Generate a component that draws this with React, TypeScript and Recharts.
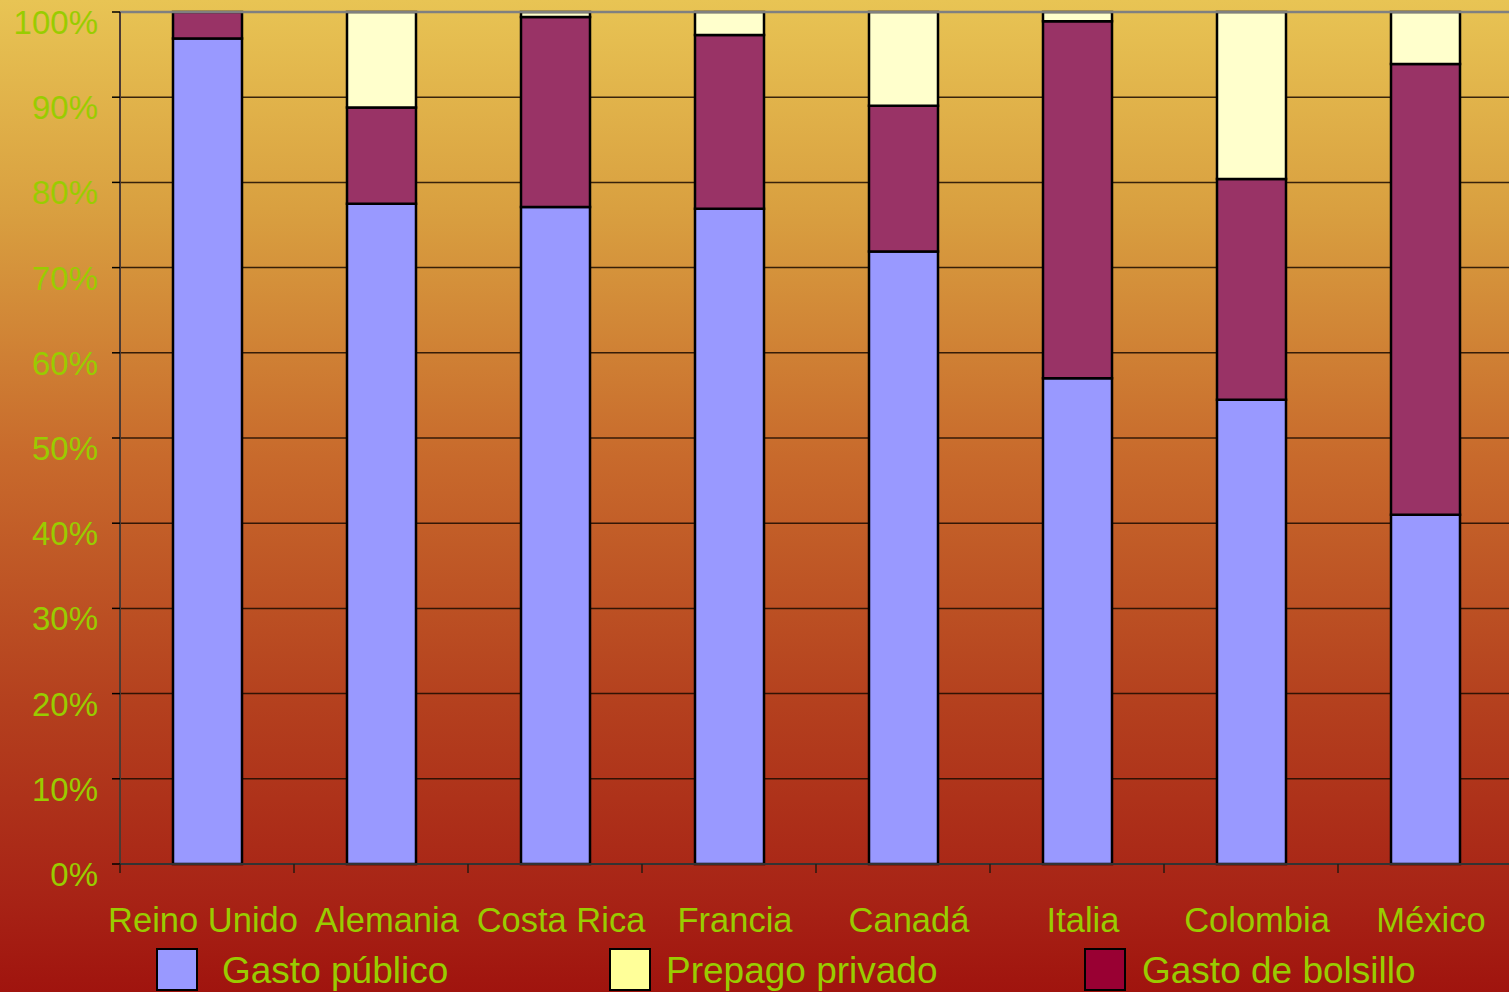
import React from "react";
import {
  Bar,
  BarChart,
  CartesianGrid,
  Legend,
  ReferenceLine,
  XAxis,
  YAxis,
} from "recharts";

// Countries along the x axis
const paises = [
  "Reino Unido",
  "Alemania",
  "Costa Rica",
  "Francia",
  "Canadá",
  "Italia",
  "Colombia",
  "México",
];

// Share of health spending (%) per source
const gastoPublico = [96.9, 77.5, 77.1, 76.9, 71.9, 57.0, 54.5, 41.0];
const gastoBolsillo = [3.1, 11.3, 22.3, 20.4, 17.1, 41.9, 25.9, 52.9];
const prepagoPrivado = [0, 11.2, 0.6, 2.7, 11.0, 1.1, 19.6, 6.1];

const yTicks = [0, 10, 20, 30, 40, 50, 60, 70, 80, 90, 100];

// legend entries (swatch colours differ a bit from the bar fills, as in the original)
const leyenda = [
  { label: "Gasto público", color: "#9999FF", left: 156, gap: 24 },
  { label: "Prepago privado", color: "#FFFF99", left: 609, gap: 15 },
  { label: "Gasto de bolsillo", color: "#990033", left: 1084, gap: 16 },
];

const data = paises.map((pais, i) => ({
  pais,
  publico: gastoPublico[i],
  bolsillo: gastoBolsillo[i],
  prepago: prepagoPrivado[i],
}));

const GREEN = "#99CC00";
const FONT = "'Liberation Sans', Arial, sans-serif";
const BAND = 174; // width of one category slot

const YTick = (props: any) => {
  const { y, payload } = props;
  return (
    <g>
      <line x1={112} x2={120} y1={y} y2={y} stroke="#000" strokeWidth={1.5} />
      <text
        x={98}
        y={y + 22}
        textAnchor="end"
        fill={GREEN}
        fontSize={33}
        fontFamily={FONT}
      >
        {payload.value}%
      </text>
    </g>
  );
};

const XTick = (props: any) => {
  const { x, payload, index } = props;
  const left = x - BAND / 2;
  // first label is nudged left so it doesn't run into the second one
  const shift = index === 0 ? -4 : 6;
  return (
    <g>
      <line x1={left} x2={left} y1={864} y2={873} stroke="#2a1a10" strokeWidth={1.5} />
      <text
        x={x + shift}
        y={932}
        textAnchor="middle"
        fill={GREEN}
        fontSize={34.5}
        fontFamily={FONT}
      >
        {payload.value}
      </text>
    </g>
  );
};

const Leyenda = () => (
  <div style={{ position: "relative", width: 1509, height: 47 }}>
    {leyenda.map((item) => (
      <div
        key={item.label}
        style={{
          position: "absolute",
          left: item.left,
          top: 3,
          display: "flex",
          alignItems: "flex-start",
        }}
      >
        <div
          style={{
            width: 38,
            height: 39,
            background: item.color,
            border: "2px solid #000",
            boxSizing: "content-box",
          }}
        />
        <span
          style={{
            marginLeft: item.gap,
            color: GREEN,
            fontFamily: FONT,
            fontSize: 37,
            lineHeight: "42px",
            marginTop: 2,
            whiteSpace: "nowrap",
          }}
        >
          {item.label}
        </span>
      </div>
    ))}
  </div>
);

export default function App() {
  return (
    <div
      style={{
        position: "absolute",
        left: 0,
        top: 0,
        width: 1509,
        height: 992,
        overflow: "hidden",
        background:
          "linear-gradient(to bottom, #E8C454 0%, #D9A040 21%, #C86A2C 46%, #B4401E 71%, #A82416 90%, #A0140E 100%)",
      }}
    >
      <BarChart
        width={1512}
        height={992}
        data={data}
        margin={{ top: 12, right: 0, left: 0, bottom: 0 }}
        barSize={69}
      >
        <CartesianGrid
          vertical={false}
          stroke="#1a0a00"
          strokeOpacity={0.85}
          strokeWidth={1.5}
        />
        <YAxis
          type="number"
          domain={[0, 100]}
          ticks={yTicks}
          width={120}
          interval={0}
          axisLine={{ stroke: "#4a3a34", strokeWidth: 2 }}
          tickLine={false}
          tick={<YTick />}
        />
        <XAxis
          dataKey="pais"
          height={81}
          interval={0}
          axisLine={{ stroke: "#333", strokeWidth: 2 }}
          tickLine={false}
          tick={<XTick />}
        />
        <ReferenceLine y={100} stroke="#808080" strokeWidth={2.5} />
        <Legend
          verticalAlign="bottom"
          align="left"
          content={<Leyenda />}
          wrapperStyle={{ height: 47, left: 0 }}
        />
        <Bar
          dataKey="publico"
          stackId="a"
          fill="#9999FF"
          stroke="#000"
          strokeWidth={2.5}
          isAnimationActive={false}
        />
        <Bar
          dataKey="bolsillo"
          stackId="a"
          fill="#993366"
          stroke="#000"
          strokeWidth={2.5}
          isAnimationActive={false}
        />
        <Bar
          dataKey="prepago"
          stackId="a"
          fill="#FFFFCC"
          stroke="#000"
          strokeWidth={2.5}
          isAnimationActive={false}
        />
      </BarChart>
    </div>
  );
}
